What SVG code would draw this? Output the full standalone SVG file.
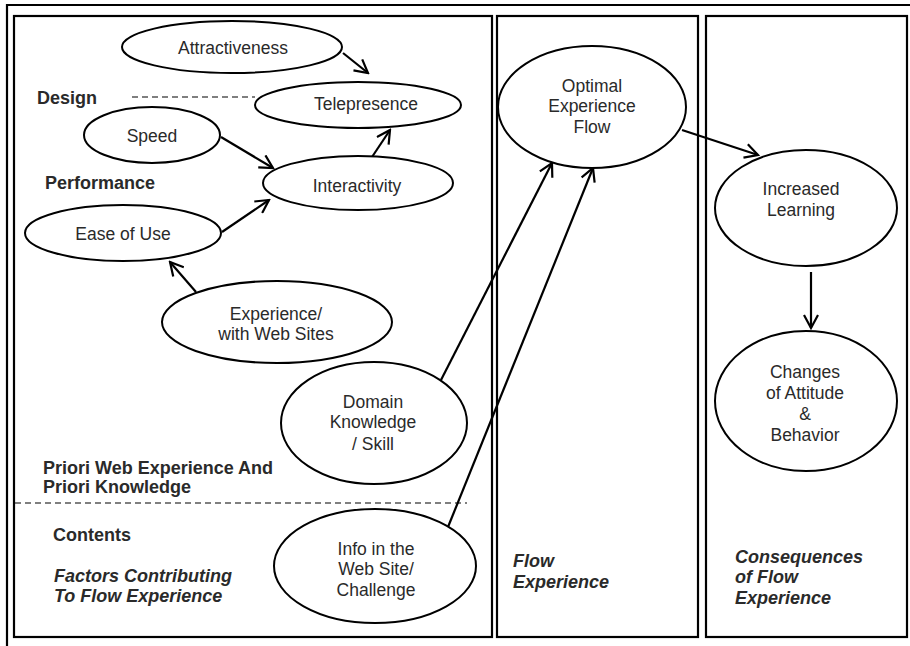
<svg xmlns="http://www.w3.org/2000/svg" width="910" height="646" viewBox="0 0 910 646">
<defs>
<marker id="arr" markerWidth="16" markerHeight="16" refX="14" refY="8" orient="auto" markerUnits="userSpaceOnUse">
<path d="M1,1 L14,8 L1,15" fill="none" stroke="#000" stroke-width="2.2"/>
</marker>
<style>
.frame{fill:none;stroke:#000;stroke-width:2.2}
.node ellipse{fill:#fff;stroke:#000;stroke-width:2}
.node text{font-family:"Liberation Sans",Arial,sans-serif;font-size:17.5px;fill:#2a2a2a;text-anchor:middle}
.lbl{font-family:"Liberation Sans",Arial,sans-serif;font-size:18px;font-weight:bold;fill:#2a2a2a}
.it{font-style:italic}
.conn line{stroke:#000;stroke-width:2.2;marker-end:url(#arr)}
.dash{stroke:#000;stroke-width:1.2;stroke-dasharray:6,4}
</style>
</defs>
<rect width="910" height="646" fill="#fff"/>
<g id="frames">
<polyline class="frame" points="7,646 7,5 910,5"/>
<rect class="frame" x="14" y="16" width="478" height="621"/>
<rect class="frame" x="497" y="16" width="201" height="621"/>
<rect class="frame" x="706" y="16" width="201" height="621"/>
<line class="dash" x1="132" y1="97" x2="255" y2="97"/>
<line class="dash" x1="15" y1="503" x2="467" y2="503"/>
</g>
<g id="labels">
<text class="lbl" x="37" y="104">Design</text>
<text class="lbl" x="45" y="189">Performance</text>
<text class="lbl" x="43" y="474">Priori Web Experience And</text>
<text class="lbl" x="43" y="493">Priori Knowledge</text>
<text class="lbl" x="53" y="541">Contents</text>
<text class="lbl it" x="54" y="582">Factors Contributing</text>
<text class="lbl it" x="54" y="602">To Flow Experience</text>
<text class="lbl it" x="513" y="567">Flow</text>
<text class="lbl it" x="513" y="588">Experience</text>
<text class="lbl it" x="735" y="563">Consequences</text>
<text class="lbl it" x="735" y="583">of Flow</text>
<text class="lbl it" x="735" y="604">Experience</text>
</g>
<g id="connectors" class="conn">
<line x1="343" y1="53" x2="368" y2="73"/>
<line x1="221" y1="137" x2="273" y2="168"/>
<line x1="372" y1="157" x2="390" y2="130"/>
<line x1="222" y1="232" x2="269" y2="200"/>
<line x1="196" y1="292" x2="170" y2="262"/>
<line x1="441" y1="380" x2="552" y2="163"/>
<line x1="448" y1="527" x2="593" y2="168"/>
<line x1="682" y1="130" x2="758" y2="155"/>
<line x1="811" y1="272" x2="811" y2="328"/>
</g>
<g id="n-attractiveness" class="node"><ellipse cx="232" cy="47" rx="110" ry="26"/><text x="233" y="54">Attractiveness</text></g>
<g id="n-telepresence" class="node"><ellipse cx="358" cy="105" rx="103" ry="23"/><text x="366" y="110">Telepresence</text></g>
<g id="n-speed" class="node"><ellipse cx="152" cy="135" rx="68" ry="28"/><text x="152" y="142">Speed</text></g>
<g id="n-interactivity" class="node"><ellipse cx="358" cy="183" rx="95" ry="27"/><text x="357" y="192">Interactivity</text></g>
<g id="n-ease" class="node"><ellipse cx="123" cy="233" rx="98" ry="28"/><text x="123" y="240">Ease of Use</text></g>
<g id="n-experience" class="node"><ellipse cx="277" cy="322" rx="115" ry="41"/><text x="276" y="320">Experience/</text><text x="276" y="340">with Web Sites</text></g>
<g id="n-domain" class="node"><ellipse cx="374" cy="423" rx="93" ry="61"/><text x="373" y="408">Domain</text><text x="373" y="428">Knowledge</text><text x="373" y="450">/ Skill</text></g>
<g id="n-info" class="node"><ellipse cx="375" cy="566" rx="101" ry="57"/><text x="376" y="555">Info in the</text><text x="376" y="575">Web Site/</text><text x="376" y="596">Challenge</text></g>
<g id="n-optimal" class="node"><ellipse cx="592" cy="107" rx="94" ry="61"/><text x="592" y="92">Optimal</text><text x="592" y="112">Experience</text><text x="592" y="133">Flow</text></g>
<g id="n-learning" class="node"><ellipse cx="806" cy="208" rx="91" ry="58"/><text x="801" y="195">Increased</text><text x="801" y="216">Learning</text></g>
<g id="n-changes" class="node"><ellipse cx="806" cy="401" rx="91" ry="70"/><text x="805" y="378">Changes</text><text x="805" y="399">of Attitude</text><text x="805" y="420">&amp;</text><text x="805" y="441">Behavior</text></g>
</svg>
